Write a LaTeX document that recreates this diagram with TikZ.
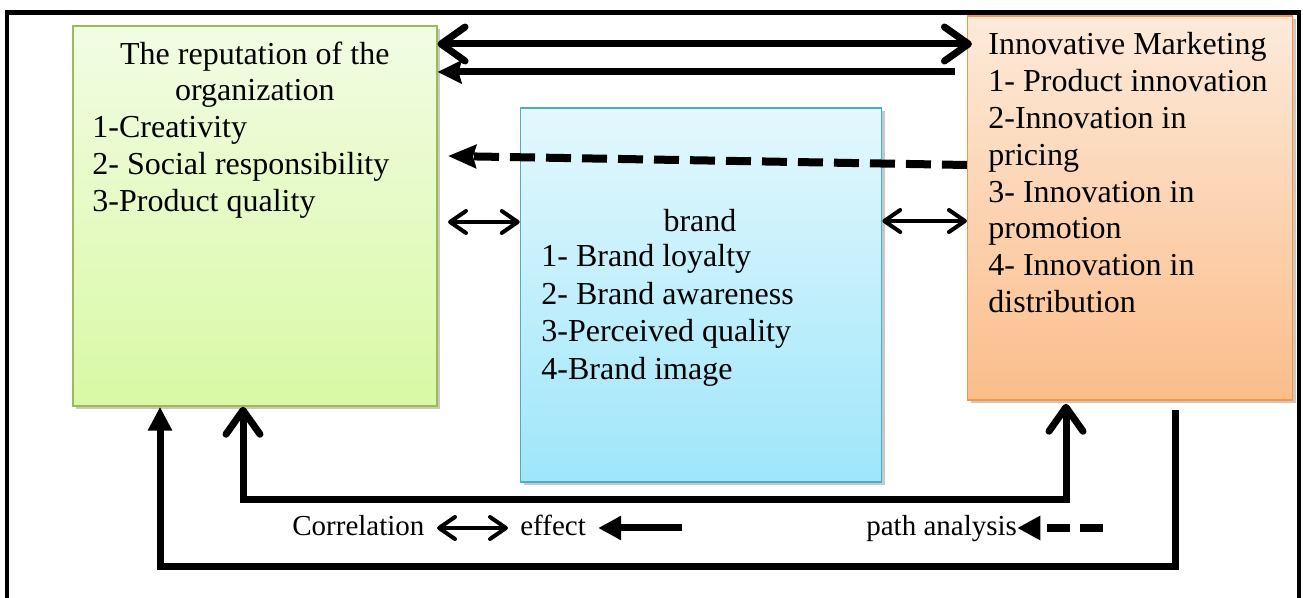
\documentclass[tikz,border=0pt]{standalone}
\usepackage{fontspec}
\setmainfont{Liberation Serif}
\usetikzlibrary{arrows.meta}
\definecolor{grnB}{RGB}{155,187,89}
\definecolor{grnT}{RGB}{242,252,228}
\definecolor{grnL}{RGB}{216,249,164}
\definecolor{bluB}{RGB}{75,172,198}
\definecolor{bluT}{RGB}{228,248,253}
\definecolor{bluL}{RGB}{158,230,250}
\definecolor{orgB}{RGB}{247,150,70}
\definecolor{orgT}{RGB}{253,234,218}
\definecolor{orgL}{RGB}{251,189,138}
\definecolor{shd}{RGB}{200,200,200}
\tikzset{
  BigBarb/.tip={Straight Barb[length=12pt,width=17pt,round]},
  SmallBarb/.tip={Straight Barb[length=8pt,width=11pt,round]},
  BigTri/.tip={Stealth[length=12pt,width=11.5pt,inset=1.5pt]},
  framestyle/.style={line width=2.25pt},
  box/.style={inner sep=0pt, line width=0.75pt,
    preaction={fill=shd, transform canvas={xshift=1.5pt,yshift=-1.5pt}}},
  greenbox/.style={box, draw=grnB, top color=grnT, bottom color=grnL},
  bluebox/.style={box, draw=bluB, top color=bluT, bottom color=bluL},
  orangebox/.style={box, draw=orgB, top color=orgT, bottom color=orgL},
  basefont/.style={font=\fontsize{16}{18.5}\selectfont, inner sep=0pt},
  txt/.style={basefont},
  lgd/.style={basefont, scale=0.906},
  heavy/.style={line width=3.5pt},
  medium/.style={line width=2pt},
  dashline/.style={line width=4pt, dash pattern=on 12.5pt off 5.5pt},
  dashsmall/.style={line width=4pt, dash pattern=on 11.5pt off 5pt},
}
\begin{document}
\begin{tikzpicture}[x=0.5pt,y=-0.5pt]
\useasboundingbox (0,0) rectangle (1303,598);
% frame
\draw[framestyle] (7,620) -- (7,12.5) -- (1299,12.5) -- (1299,620);
% boxes
\node[greenbox, minimum width=182pt, minimum height=190pt] (rep) at (254.8,216) {};
\node[bluebox, minimum width=180.5pt, minimum height=187pt] (brand) at (701,295) {};
\node[orangebox, minimum width=162.5pt, minimum height=192pt] (inn) at (1130.2,208) {};
% green text
\node[txt, anchor=base] (r0) at (254.8,65) {The reputation of the};
\node[txt, anchor=base] (r1) at (254.8,101) {organization};
\node[txt, anchor=base west] (r2) at (92,138) {1-Creativity};
\node[txt, anchor=base west] (r3) at (92,175) {2- Social responsibility};
\node[txt, anchor=base west] (r4) at (92,212) {3-Product quality};
% blue text
\node[txt, anchor=base] (b0) at (700,232) {brand};
\node[txt, anchor=base west] (b1) at (541,267) {1- Brand loyalty};
\node[txt, anchor=base west] (b2) at (541,304.5) {2- Brand awareness};
\node[txt, anchor=base west] (b3) at (541,342) {3-Perceived quality};
\node[txt, anchor=base west] (b4) at (541,379.5) {4-Brand image};
% orange text
\node[txt, anchor=base west] (i0) at (988,55) {Innovative Marketing};
\node[txt, anchor=base west] (i1) at (988,91.8) {1- Product innovation};
\node[txt, anchor=base west] (i2) at (988,128.6) {2-Innovation in};
\node[txt, anchor=base west] (i3) at (988,165.4) {pricing};
\node[txt, anchor=base west] (i4) at (988,202.2) {3- Innovation in};
\node[txt, anchor=base west] (i5) at (988,239) {promotion};
\node[txt, anchor=base west] (i6) at (988,275.8) {4- Innovation in};
\node[txt, anchor=base west] (i7) at (988,312.6) {distribution};
% top arrows
\draw[heavy, {BigBarb}-{BigBarb}] (rep.east |- 0,44) -- ([xshift=2.5pt]inn.west |- 0,44);
\coordinate (a2) at (955,72);
\draw[heavy, -{BigTri}] (a2) -- (rep.east |- a2);
% dashed arrow
\coordinate (d1) at (448,156);
\draw[dashline, -{BigTri[length=14pt]}] (inn.west |- 0,165) -- (d1);
% small double arrows
\coordinate (s1) at (448,222);
\draw[medium, {SmallBarb}-{SmallBarb}] (s1) -- (brand.west |- s1);
\draw[medium, {SmallBarb}-{SmallBarb}] (brand.east |- 0,221) -- (inn.west |- 0,221);
% bottom inner connector
\draw[heavy, {BigBarb}-{BigBarb}, line join=miter] (rep.south -| 243,0) -- (243,500) -- (1066,500) -- ([yshift=-1.5pt]inn.south -| 1066,0);
% outer connector
\coordinate (o1) at (1175,410);
\draw[heavy, line join=miter, -{BigTri[length=12pt,width=11.5pt,inset=0pt]}] (o1) -- (1175,567) -- (160,567) -- (rep.south -| 160,0);
% legend
\node[lgd, anchor=base west] (corr) at (292,536) {Correlation};
\node[lgd, anchor=base west] (eff) at (520,536) {effect};
\node[lgd, anchor=base west] (pa) at (866,536) {path analysis};
\coordinate (l1) at (437,528);
\coordinate (l2) at (508,528);
\draw[medium, {SmallBarb}-{SmallBarb}] (l1) -- (l2);
\coordinate (l3) at (682,528);
\draw[heavy, -{BigTri[length=11.5pt,width=11.5pt,inset=0pt]}] (l3) -- ([xshift=6pt]eff.east |- l3);
\coordinate (l4) at (1103,528);
\draw[dashsmall, -{BigTri[length=11.5pt,width=11.5pt,inset=0pt]}] (l4) -- (pa.east |- l4);
\end{tikzpicture}
\end{document}
